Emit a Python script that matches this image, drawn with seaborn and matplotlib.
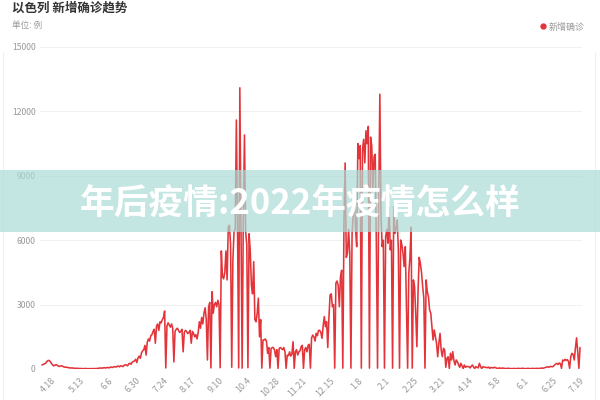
import numpy as np
import pandas as pd
import matplotlib
matplotlib.use("Agg")
import matplotlib.pyplot as plt
from matplotlib.lines import Line2D
from matplotlib.patches import Rectangle
import seaborn as sns

# daily new confirmed cases (2021-04-10 .. 2022-07-19)
start_date = "2021-04-10"
new_cases = [
    190, 210, 240, 260, 330, 390, 400, 360,
    280, 200, 150, 170, 200, 180, 140, 120,
    140, 150, 120, 95, 80, 90, 70, 60,
    55, 45, 50, 40, 35, 30, 35, 25,
    25, 20, 30, 20, 15, 20, 25, 15,
    15, 20, 15, 10, 20, 15, 10, 20,
    30, 35, 40, 50, 35, 55, 60, 45,
    65, 70, 50, 80, 90, 70, 100, 110,
    90, 120, 140, 100, 150, 140, 110, 170,
    200, 180, 150, 240, 270, 220, 320, 350,
    380, 450, 300, 520, 600, 500, 750, 850,
    900, 1100, 650, 1250, 1400, 1300, 1550, 1600,
    1750, 1850, 1200, 2000, 2100, 1800, 2200, 2150,
    2300, 2400, 2700, 50, 2000, 2150, 2050, 1950,
    2100, 1900, 330, 1750, 1850, 1900, 1800, 1700,
    1750, 1850, 800, 1700, 1800, 1750, 1650, 1700,
    1800, 1200, 1750, 1650, 1500, 1600, 1400, 1700,
    2200, 1900, 2400, 2100, 2600, 2850, 2300, 420,
    2900, 3100, 50, 3600, 2600, 3000, 3100, 2900,
    3200, 3000, 60, 5500, 4300, 4200, 4500, 5500,
    4150, 6600, 6700, 5800, 80, 5100, 6400, 6500,
    11600, 6600, 50, 13100, 6600, 40, 7000, 10900,
    6400, 5800, 60, 6300, 5500, 3900, 3500, 5000,
    2300, 2200, 2600, 3300, 1500, 2300, 40, 1350,
    1350, 1400, 1300, 730, 1000, 40, 950, 1000,
    1000, 880, 575, 900, 30, 960, 1000, 950,
    900, 1000, 800, 30, 650, 620, 800, 600,
    700, 1270, 30, 800, 900, 650, 800, 850,
    1040, 1100, 30, 900, 1000, 800, 1100, 1150,
    40, 1450, 1580, 1500, 1300, 1660, 1550, 1800,
    1800, 1700, 1430, 2000, 2440, 1970, 2200, 1000,
    2400, 3450, 3500, 2900, 3000, 40, 4000, 4100,
    3900, 2900, 4300, 4600, 40, 6800, 9600, 5200,
    5400, 6500, 5400, 40, 6300, 7200, 8300, 6500,
    5700, 10500, 9800, 10400, 40, 10200, 10700, 9600,
    11100, 10500, 11300, 40, 10800, 10400, 8300, 9900,
    10000, 5700, 40, 7900, 12800, 7100, 5700, 6000,
    40, 6170, 6500, 5860, 7550, 5550, 6000, 40,
    7560, 6320, 6500, 6940, 5550, 40, 6010, 5800,
    5390, 4770, 5700, 2750, 40, 4460, 5200, 6600,
    40, 4150, 3840, 2600, 1040, 3600, 5200, 4920,
    4500, 3840, 3300, 40, 4150, 3600, 3370, 2750,
    2600, 1970, 1350, 1820, 1500, 1190, 570, 1200,
    1660, 885, 575, 963, 880, 80, 497, 570,
    30, 730, 420, 808, 400, 186, 420, 342,
    200, 78, 264, 150, 20, 186, 78, 120,
    110, 110, 50, 130, 186, 90, 20, 110,
    80, 50, 264, 120, 20, 100, 90, 80,
    70, 60, 90, 30, 70, 60, 50, 80,
    60, 40, 20, 50, 40, 30, 45, 35,
    30, 20, 25, 35, 25, 15, 20, 30,
    25, 20, 15, 30, 25, 20, 20, 35,
    25, 20, 15, 25, 30, 20, 15, 25,
    30, 20, 25, 35, 30, 20, 30, 40,
    45, 35, 50, 70, 90, 100, 80, 110,
    120, 100, 130, 186, 230, 260, 210, 280,
    250, 30, 420, 380, 450, 400, 440, 350,
    30, 575, 730, 680, 420, 963, 1450, 808,
    30, 1000,
]

tick_dates = [
    "2021-04-18", "2021-05-13", "2021-06-06", "2021-06-30", "2021-07-24",
    "2021-08-17", "2021-09-10", "2021-10-04", "2021-10-28", "2021-11-21",
    "2021-12-15", "2022-01-08", "2022-02-01", "2022-02-25", "2022-03-21",
    "2022-04-14", "2022-05-08", "2022-06-01", "2022-06-25", "2022-07-19",
]
y_ticks = [0, 3000, 6000, 9000, 12000, 15000]

title = "以色列 新增确诊趋势"
unit_label = "单位: 例"
series_name = "新增确诊"
watermark = "年后疫情:2022年疫情怎么样"

RED = "#e3343a"
GREY = "#999999"

dates = pd.date_range(start_date, periods=len(new_cases), freq="D")
df = pd.DataFrame({"day": np.arange(len(new_cases)), "cases": new_cases})
tick_pos = [(pd.Timestamp(d) - dates[0]).days for d in tick_dates]
tick_lab = [f"{pd.Timestamp(d).month}.{pd.Timestamp(d).day}" for d in tick_dates]

sns.set_style("white")
plt.rcParams["font.family"] = ["Noto Sans CJK SC", "DejaVu Sans"]

fig = plt.figure(figsize=(6, 4), dpi=100)
ax = fig.add_axes([40 / 600, 31 / 400, 542 / 600, 322 / 400])

sns.lineplot(data=df, x="day", y="cases", ax=ax, color=RED, linewidth=1.15,
             estimator=None)

ax.set_xlim(-1.7, len(new_cases) + 0.7)
ax.set_ylim(0, 15000)
ax.set_yticks(y_ticks)
ax.set_yticklabels([str(v) for v in y_ticks], fontsize=6.2, color=GREY)
ax.set_xticks(tick_pos)
ax.set_xticklabels(tick_lab, fontsize=6.4, color=GREY, rotation=45,
                   ha="right", va="top", rotation_mode="anchor")
ax.tick_params(axis="both", length=0)
ax.tick_params(axis="y", pad=3)
ax.tick_params(axis="x", pad=5)
ax.set_xlabel("")
ax.set_ylabel("")
ax.grid(axis="y", color="#eeeeee", linewidth=0.6)
ax.grid(axis="x", visible=False)
for s in ax.spines.values():
    s.set_visible(False)

# header texts
fig.text(12 / 600, 1 - 8 / 400, title, fontsize=9, fontweight="bold",
         color="#333333", va="center", ha="left")
fig.text(12 / 600, 1 - 25 / 400, unit_label, fontsize=6.2, color=GREY,
         va="center", ha="left")

handle = Line2D([], [], marker="o", color=RED, linestyle="", markersize=3.5)
ax.legend([handle], [series_name], loc="center right",
          bbox_to_anchor=(585 / 600, 1 - 27 / 400), bbox_transform=fig.transFigure,
          frameon=False, fontsize=6.5, labelcolor=GREY, handletextpad=0.2,
          borderpad=0, borderaxespad=0, handlelength=1.0)

# faint card edges
for xf in (3 / 600, 595 / 600):
    fig.add_artist(Line2D([xf, xf], [0, 0.87], transform=fig.transFigure,
                          color="#f0f0f0", linewidth=0.8))

# watermark band
fig.add_artist(Rectangle((0, (400 - 232) / 400), 1, 62 / 400,
                         transform=fig.transFigure, facecolor="#aadcd6",
                         alpha=0.7, edgecolor="none", zorder=5))
fig.text(0.5, 1 - 204 / 400, watermark, fontsize=25, fontweight="bold",
         color="white", ha="center", va="center", zorder=6)

fig.savefig("out.png", dpi=100)
